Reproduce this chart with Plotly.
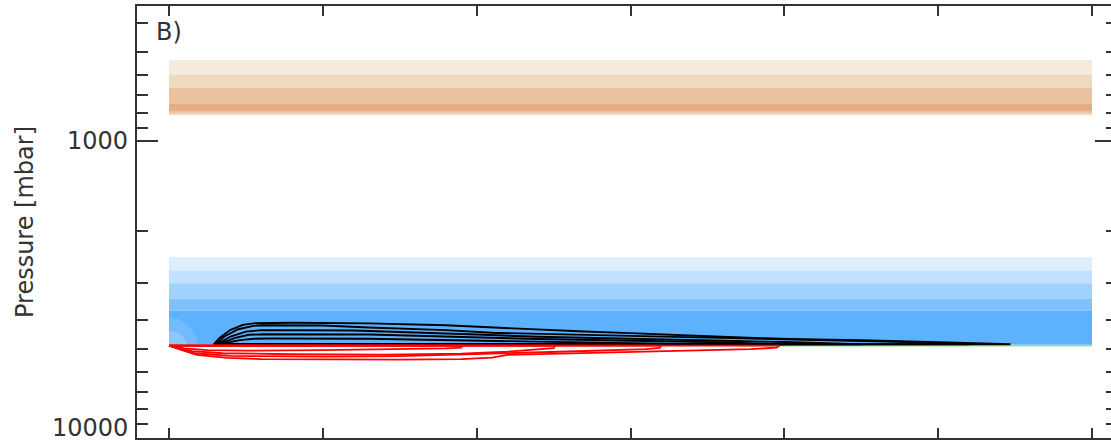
import numpy as np
import plotly.graph_objects as go

# ---------------- data ----------------
# x extent of the model field (axis units, ticks at 0..6, unlabelled)
x_start, x_end = 0.0, 6.0
x_ticks = [0, 1, 2, 3, 4, 5, 6]

# pressure axis ticks [mbar]
p_major = [1000, 10000]
p_major_labels = ["1000", "10000"]
p_minor = [400, 500, 600, 700, 800, 900,
           2000, 3000, 4000, 5000, 6000, 7000, 8000, 9000]

# upper (orange) filled layers: edges [mbar] top->bottom and fill colours
orange_edges = [532, 595, 660, 745, 791, 803, 815]
orange_colors = ["#F4EBDE", "#F0D8BE", "#EAC4A2", "#E4AE82", "#EAC4A2", "#F0D8C0"]

# lower (blue) filled layers
blue_edges = [2458, 2727, 3007, 3396, 3727, 4852]
blue_colors = ["#DDEEFE", "#C1E1FE", "#A1D2FE", "#7FC1FE", "#5DB2FE"]

# lighter pocket at the left end of the blue layer
pocket_outer_x = [0.0, 0.06, 0.12, 0.16, 0.18, 0.185, 0.0]
pocket_outer_p = [3900, 3960, 4150, 4400, 4650, 4850, 4850]
pocket_inner_x = [0.0, 0.05, 0.09, 0.115, 0.12, 0.0]
pocket_inner_p = [4350, 4400, 4560, 4750, 4850, 4850]

# black contours (closed back along their base level)
black_base = 4833
black_x = [
    [0.29, 0.33, 0.40, 0.48, 0.55, 0.8, 1.3, 1.8, 2.15, 2.4, 2.7, 3.0, 3.25, 3.55, 3.85, 4.1, 4.5, 4.83, 5.12, 5.47],
    [0.30, 0.36, 0.45, 0.55, 0.6, 1.0, 1.3, 1.8, 2.1, 2.6, 3.1, 3.5, 4.0, 4.4, 4.8, 5.2],
    [0.31, 0.40, 0.50, 0.6, 1.2, 1.6, 2.0, 2.4, 3.0, 3.6, 4.0, 4.5],
    [0.32, 0.43, 0.52, 0.62, 1.3, 1.8, 2.4, 3.0, 3.6, 4.0],
    [0.33, 0.46, 0.55, 0.65, 1.3, 2.0, 2.8, 3.4],
]
black_p = [
    [4833, 4595, 4319, 4155, 4107, 4090, 4107, 4171, 4252, 4319, 4376, 4431, 4490, 4549, 4606, 4649, 4685, 4722, 4776, 4833],
    [4833, 4550, 4300, 4190, 4170, 4175, 4240, 4330, 4420, 4480, 4560, 4600, 4650, 4700, 4750, 4833],
    [4833, 4550, 4380, 4330, 4340, 4400, 4480, 4560, 4620, 4700, 4750, 4833],
    [4833, 4600, 4490, 4470, 4480, 4560, 4640, 4700, 4760, 4833],
    [4833, 4680, 4630, 4620, 4630, 4700, 4760, 4833],
]

# red contours (lobes hanging below the blue layer, closed along their top)
red_top = 4880
red_x = [
    [0.0, 0.05, 0.18, 0.38, 0.6, 1.0, 1.5, 1.9, 2.1, 2.2, 2.55, 2.9, 3.2, 3.55, 3.78, 3.95, 3.97],
    [0.0, 0.05, 0.17, 0.4, 1.0, 1.5, 2.0, 2.3, 2.6, 2.9, 3.1, 3.19, 3.2],
    [0.0, 0.06, 0.15, 0.35, 0.8, 1.4, 1.9, 2.2, 2.4, 2.5, 2.51],
    [0.0, 0.1, 0.25, 0.5, 1.0, 1.5, 1.8, 1.9, 1.91],
]
red_p = [
    [4880, 4990, 5250, 5370, 5420, 5440, 5440, 5420, 5360, 5250, 5200, 5150, 5120, 5080, 5020, 4960, 4880],
    [4880, 4970, 5180, 5290, 5320, 5300, 5230, 5160, 5110, 5060, 5020, 4970, 4880],
    [4880, 4960, 5100, 5180, 5220, 5240, 5200, 5120, 5040, 4980, 4880],
    [4880, 4990, 5060, 5080, 5060, 5030, 4990, 4960, 4880],
]

# pale green contour along the bottom of the blue layer
green_x = [3.7, 6.0]
green_p = [4885, 4885]

panel_label = "B)"
y_title = "Pressure [mbar]"

# ---------------- figure ----------------
AX = "#333333"
FONT = "DejaVu Sans"
fig = go.Figure()


def band(x0, x1, p_top, p_bot, color):
    fig.add_trace(go.Scatter(
        x=[x0, x1, x1, x0, x0], y=[p_top, p_top, p_bot, p_bot, p_top],
        mode="lines", fill="toself", fillcolor=color,
        line=dict(width=0, color=color), hoverinfo="skip", showlegend=False))


for i, c in enumerate(orange_colors):
    band(x_start, x_end, orange_edges[i], orange_edges[i + 1], c)
for i, c in enumerate(blue_colors):
    band(x_start, x_end, blue_edges[i], blue_edges[i + 1], c)

for px, pp, c in [(pocket_outer_x, pocket_outer_p, "#72BBFE"),
                  (pocket_inner_x, pocket_inner_p, "#8DC8FE")]:
    fig.add_trace(go.Scatter(x=px, y=pp, mode="lines", fill="toself", fillcolor=c,
                             line=dict(width=0, color=c), hoverinfo="skip",
                             showlegend=False))

fig.add_trace(go.Scatter(x=green_x, y=green_p, mode="lines",
                         line=dict(color="#9ADE9A", width=1.6),
                         hoverinfo="skip", showlegend=False))

for xs, ps in zip(black_x, black_p):
    fig.add_trace(go.Scatter(x=xs + [xs[0]], y=ps + [black_base], mode="lines",
                             line=dict(color="#000000", width=1.9),
                             hoverinfo="skip", showlegend=False))

for xs, ps in zip(red_x, red_p):
    fig.add_trace(go.Scatter(x=xs + [xs[0]], y=ps + [red_top], mode="lines",
                             line=dict(color="#FF0000", width=1.8),
                             hoverinfo="skip", showlegend=False))

# invisible trace so the right-hand tick axis is laid out
fig.add_trace(go.Scatter(x=[x_start], y=[1000], yaxis="y2", mode="markers",
                         marker=dict(opacity=0), hoverinfo="skip", showlegend=False))

y_range = [np.log10(10000), np.log10(350)]

fig.update_layout(
    width=1111, height=441,
    margin=dict(l=137, r=0, t=6, b=3),
    paper_bgcolor="white", plot_bgcolor="white",
    xaxis=dict(range=[-0.208, 6.1235], tickvals=x_ticks, showticklabels=False,
               ticks="inside", ticklen=10, tickwidth=1.5, tickcolor=AX,
               showline=True, linewidth=2, linecolor=AX, mirror="ticks",
               showgrid=False, zeroline=False),
    yaxis=dict(type="log", range=y_range, tickvals=p_major, showticklabels=False,
               ticks="inside", ticklen=21, tickwidth=1.5, tickcolor=AX,
               minor=dict(tickmode="array", tickvals=p_minor, ticks="inside",
                          ticklen=11, tickwidth=1.5, tickcolor=AX, showgrid=False),
               showline=True, linewidth=2, linecolor=AX, mirror=False,
               showgrid=False, zeroline=False),
    yaxis2=dict(type="log", range=y_range, overlaying="y", side="right",
                tickvals=p_major, showticklabels=False,
                ticks="inside", ticklen=16, tickwidth=1.5, tickcolor=AX,
                minor=dict(tickmode="array", tickvals=p_minor, ticks="inside",
                           ticklen=5, tickwidth=1.5, tickcolor=AX, showgrid=False),
                showline=False, showgrid=False, zeroline=False),
)

# pressure tick labels (the bottom one is kept inside the frame)
for v, lab in zip(p_major, p_major_labels):
    fig.add_annotation(x=0, xref="paper", y=np.log10(v), yref="y", text=lab,
                       showarrow=False, xanchor="right", yanchor="middle",
                       xshift=-7, yshift=10 if v == max(p_major) else 0,
                       font=dict(family=FONT, size=24, color=AX))

fig.add_annotation(x=0, xref="paper", y=0.5, yref="paper", text=y_title,
                   textangle=-90, showarrow=False, xanchor="center",
                   yanchor="middle", xshift=-112,
                   font=dict(family=FONT, size=24, color=AX))

fig.add_annotation(x=0, xref="paper", y=1, yref="paper", text=panel_label,
                   showarrow=False, xanchor="left", yanchor="middle",
                   xshift=17, yshift=-26,
                   font=dict(family=FONT, size=24, color=AX))

fig.write_html("out.html")
